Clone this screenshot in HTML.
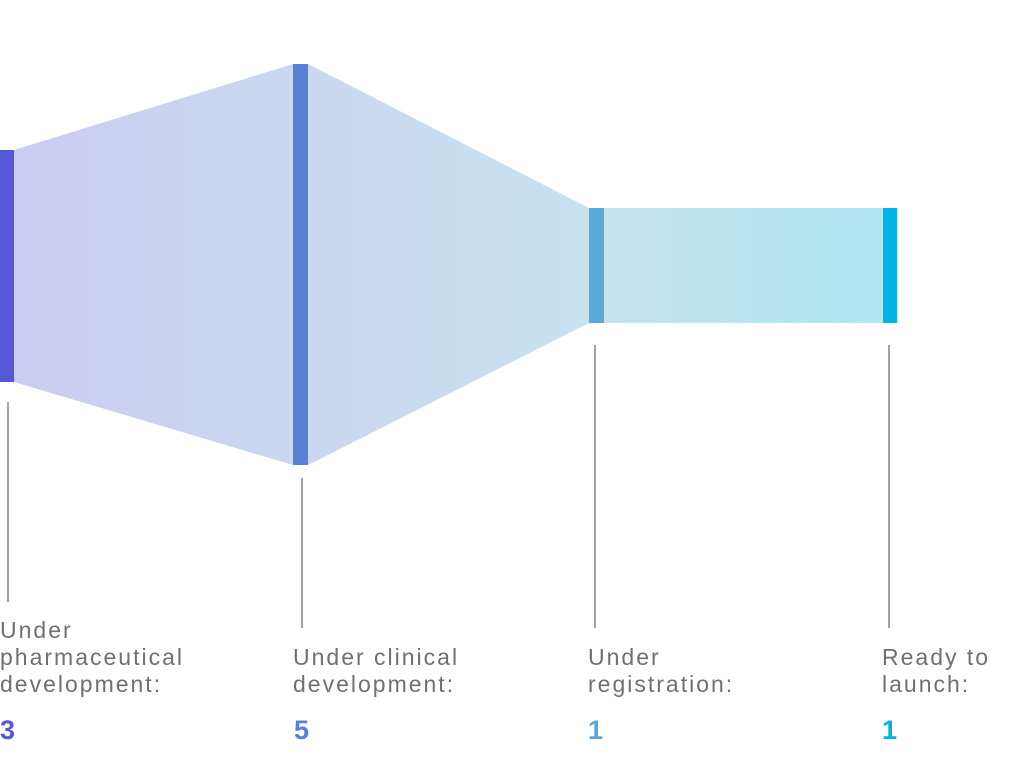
<!DOCTYPE html>
<html><head><meta charset="utf-8"><style>
html,body{margin:0;padding:0;background:#fff;width:1024px;height:767px;overflow:hidden}
svg{display:block}
.t{font-family:"Liberation Sans",sans-serif;font-size:23px;fill:#707070;letter-spacing:2px}
.n{font-family:"Liberation Sans",sans-serif;font-size:27px;font-weight:bold}
</style></head><body>
<svg width="1024" height="767" viewBox="0 0 1024 767" xmlns="http://www.w3.org/2000/svg">
<defs>
<linearGradient id="g" x1="0" y1="0" x2="897" y2="0" gradientUnits="userSpaceOnUse">
<stop offset="0" stop-color="#cbcbf1"/>
<stop offset="0.35" stop-color="#cad8f0"/>
<stop offset="0.66" stop-color="#c8e2ee"/>
<stop offset="1" stop-color="#b0e6f4"/>
</linearGradient>
</defs>
<polygon points="14,150 293,64 293,465 14,382" fill="url(#g)"/>
<polygon points="308,64 589,208 589,323 308,465" fill="url(#g)"/>
<polygon points="604,208 883,208 883,323 604,323" fill="url(#g)"/>
<rect x="0" y="150" width="14" height="232" fill="#5558d6"/>
<rect x="293" y="64" width="15" height="401" fill="#5a80d6"/>
<rect x="589" y="208" width="15" height="115" fill="#5aa8d6"/>
<rect x="883" y="208" width="14" height="115" fill="#00b4e6"/>
<g stroke="#707070" stroke-width="1.3">
<line x1="8" y1="402" x2="8" y2="602"/>
<line x1="302" y1="478" x2="302" y2="628"/>
<line x1="595" y1="345" x2="595" y2="628"/>
<line x1="889" y1="345" x2="889" y2="628"/>
</g>
<text class="t" x="0" y="638">Under</text>
<text class="t" x="0" y="665">pharmaceutical</text>
<text class="t" x="0" y="692">development:</text>
<text class="t" x="293" y="665">Under clinical</text>
<text class="t" x="293" y="692">development:</text>
<text class="t" x="588" y="665">Under</text>
<text class="t" x="588" y="692">registration:</text>
<text class="t" x="882" y="665">Ready to</text>
<text class="t" x="882" y="692">launch:</text>
<text class="n" x="0" y="739" fill="#5558d6">3</text>
<text class="n" x="294" y="739" fill="#5a80d6">5</text>
<text class="n" x="588" y="739" fill="#5aa8d6">1</text>
<text class="n" x="882" y="739" fill="#00b4e6">1</text>
</svg>
</body></html>
